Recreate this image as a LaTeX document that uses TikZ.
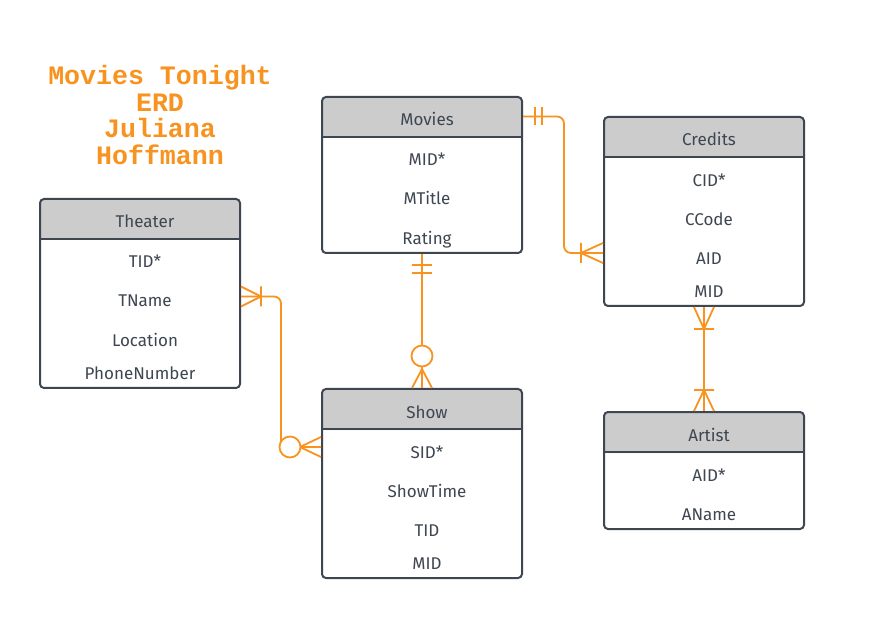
\documentclass[tikz,border=0pt]{standalone}
\usepackage{fontspec}
\setmainfont{Fira Sans}
\newfontfamily\titlefont{Liberation Mono}
\usetikzlibrary{calc,positioning}
\definecolor{Ink}{HTML}{3E4651}
\definecolor{HeadGray}{HTML}{CCCCCC}
\definecolor{Tangerine}{HTML}{F7931E}
\tikzset{
  entity/.style={
    rounded corners=4pt, draw=Ink, line width=2pt, fill=white,
    minimum width=200pt, inner sep=0pt,
    path picture={\fill[HeadGray] (path picture bounding box.north west)
      rectangle ([yshift=-41pt]path picture bounding box.north east);}
  },
  ehead/.style={
    inner sep=0pt, text=Ink, text height=15pt, text depth=0pt,
    font=\fontsize{17}{19}\selectfont
  },
  attr/.style={
    inner sep=0pt, text=Ink, text height=15pt, text depth=0pt,
    font=\fontsize{17}{19}\selectfont
  },
  divider/.style={draw=Ink, line width=2pt},
  rel/.style={draw=Tangerine, line width=1.8pt},
  optional/.style={draw=Tangerine, line width=1.8pt, fill=white}
}

\begin{document}
\begin{tikzpicture}[x=1pt,y=-1pt]
        \useasboundingbox[fill=white] (0,0) rectangle (884,644);
        % title
        \node[text=Tangerine, align=center,
              font=\titlefont\bfseries\fontsize{26.6}{26.6}\selectfont] (title) at (160,115)
              {Movies Tonight\\ERD\\Juliana\\Hoffmann};
        % entities
        \node[entity, minimum height=189pt] (theater) at (140,293.5) {};
        \node[entity, minimum height=156pt] (movies) at (422,175) {};
        \node[entity, minimum height=189pt] (credits) at (704,211.5) {};
        \node[entity, minimum height=189pt] (show) at (422,483.5) {};
        \node[entity, minimum height=117pt] (artist) at (704,470.5) {};
        \foreach \e/\t in {theater/Theater, movies/Movies, credits/Credits, show/Show, artist/Artist}{
          \node[ehead] (\e-h) at ($(\e.north)+(5,22.5)$) {\t};
          \draw[divider] ($(\e.north west)+(0,41)$) -- ($(\e.north east)+(0,41)$);
        }
        % attributes
        \foreach \a/\dx/\dy [count=\i] in {TID*/5/62.5, TName/5/101.5, Location/5/141, PhoneNumber/0/174}
          \node[attr] (theater-\i) at ($(theater.north)+(\dx,\dy)$) {\a};
        \foreach \a/\dy [count=\i] in {MID*/62.5, MTitle/101.5, Rating/141}
          \node[attr] (movies-\i) at ($(movies.north)+(5,\dy)$) {\a};
        \foreach \a/\dy [count=\i] in {CID*/63, CCode/102, AID/141, MID/174}
          \node[attr] (credits-\i) at ($(credits.north)+(5,\dy)$) {\a};
        \foreach \a/\dy [count=\i] in {SID*/63, ShowTime/102, TID/141, MID/174}
          \node[attr] (show-\i) at ($(show.north)+(5,\dy)$) {\a};
        \foreach \a/\dy [count=\i] in {AID*/63, AName/102}
          \node[attr] (artist-\i) at ($(artist.north)+(5,\dy)$) {\a};
        % connector ends
        \coordinate (cr-in) at ($(credits-3 -| credits.west)+(0,-4)$);
        \coordinate (th-out) at ($(theater-2 -| theater.east)+(0,-3)$);
        \coordinate (sh-in) at ($(show-1 -| show.west)+(0,-4)$);
        \coordinate (mv-out) at ($(movies.north east)+(0,20.5)$);
        % Movies -- Credits
        \draw[rel, rounded corners=7pt] (mv-out) -- ++(41,0) |- (cr-in);
        \draw[rel] ($(mv-out)+(12,-9)$) -- ++(0,18)
                   ($(mv-out)+(19,-9)$) -- ++(0,18);
        \draw[rel] ($(cr-in)+(-22,0)$) -- ++(22,-10)
                   ($(cr-in)+(-22,0)$) -- ++(22,10)
                   ($(cr-in)+(-22,-10)$) -- ++(0,20);
        % Movies -- Show
        \draw[rel] (movies.south) -- (show.north);
        \draw[rel] ($(movies.south)+(-10,11)$) -- ++(20,0)
                   ($(movies.south)+(-10,19)$) -- ++(20,0);
        \draw[rel] ($(show.north)+(0,-19)$) -- ++(-10,19)
                   ($(show.north)+(0,-19)$) -- ++(10,19);
        \draw[optional] ($(show.north)+(0,-32)$) circle[radius=10.5];
        % Theater -- Show
        \draw[rel, rounded corners=7pt] (th-out) -- ++(40,0) |- (sh-in);
        \draw[rel] ($(th-out)+(20,0)$) -- ++(-20,-10)
                   ($(th-out)+(20,0)$) -- ++(-20,10)
                   ($(th-out)+(20,-10)$) -- ++(0,20);
        \draw[rel] ($(sh-in)+(-21,0)$) -- ++(21,-10)
                   ($(sh-in)+(-21,0)$) -- ++(21,10);
        \draw[optional] ($(sh-in)+(-31,0)$) circle[radius=10.5];
        % Credits -- Artist
        \draw[rel] (credits.south) -- (artist.north);
        \draw[rel] ($(credits.south)+(0,22)$) -- ++(-10,-22)
                   ($(credits.south)+(0,22)$) -- ++(10,-22)
                   ($(credits.south)+(-10,22)$) -- ++(20,0);
        \draw[rel] ($(artist.north)+(0,-21)$) -- ++(-10,21)
                   ($(artist.north)+(0,-21)$) -- ++(10,21)
                   ($(artist.north)+(-10,-21)$) -- ++(20,0);
      \end{tikzpicture}
\end{document}
